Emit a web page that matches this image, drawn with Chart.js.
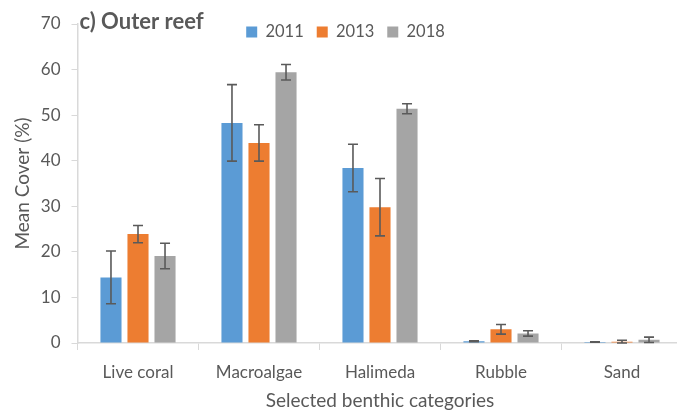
<!DOCTYPE html>
<html>
<head>
<meta charset="utf-8">
<script src="https://cdn.jsdelivr.net/npm/chart.js@4"></script>
<style>
  html, body { margin: 0; padding: 0; background: #fff; overflow: hidden; }
  #wrap { width: 685px; height: 412px; position: relative; }
</style>
</head>
<body>
<div id="wrap"><canvas id="chart"></canvas></div>
<script>
const categories = ["Live coral", "Macroalgae", "Halimeda", "Rubble", "Sand"];
const years = ["2011", "2013", "2018"];
const cover2011 = [14.4, 48.3, 38.4, 0.4, 0.2];
const cover2013 = [23.9, 43.9, 29.8, 3.0, 0.3];
const cover2018 = [19.1, 59.4, 51.4, 2.1, 0.7];
const err2011 = [5.8, 8.4, 5.2, 0.1, 0.05];
const err2013 = [1.9, 4.0, 6.3, 1.05, 0.3];
const err2018 = [2.8, 1.7, 1.1, 0.6, 0.6];
const yTicks = [0, 10, 20, 30, 40, 50, 60, 70];

const textColor = "#595959";
const axisColor = "#d9d9d9";
const fontFamily = "Lato, 'Open Sans', sans-serif";
const legendPad = 13;
const legendFont = 16.5;

// error bars drawn from each bar's own position and the y scale
const errorBars = {
  id: "errorBars",
  afterDatasetsDraw(chart) {
    const ctx = chart.ctx;
    const yScale = chart.scales.y;
    ctx.save();
    ctx.strokeStyle = "#5a5a5a";
    ctx.lineWidth = 1.6;
    chart.data.datasets.forEach((ds, i) => {
      const meta = chart.getDatasetMeta(i);
      meta.data.forEach((bar, j) => {
        const v = ds.data[j], e = ds.errors[j];
        const yTop = yScale.getPixelForValue(v + e);
        const yBot = yScale.getPixelForValue(v - e);
        ctx.beginPath();
        ctx.moveTo(bar.x, yTop); ctx.lineTo(bar.x, yBot);
        ctx.moveTo(bar.x - 5, yTop); ctx.lineTo(bar.x + 5, yTop);
        ctx.moveTo(bar.x - 5, yBot); ctx.lineTo(bar.x + 5, yBot);
        ctx.stroke();
      });
    });
    ctx.restore();
  }
};

// panel title and legend placement (legend sits over the plot like in Excel)
const panelTitle = {
  id: "panelTitle",
  afterLayout(chart) {
    const lg = chart.legend;
    lg.left = 6;
    lg.right = chart.width;
    lg.top = 32 - legendPad - legendFont / 2;
    lg.bottom = lg.top + lg.height;
  },
  afterDraw(chart) {
    const ctx = chart.ctx;
    ctx.save();
    ctx.font = "bold 22px " + fontFamily;
    ctx.fillStyle = textColor;
    ctx.textBaseline = "middle";
    ctx.fillText("c) Outer reef", chart.chartArea.left + 2, 22);
    ctx.restore();
  }
};

new Chart(document.getElementById("chart"), {
  type: "bar",
  data: {
    labels: categories,
    datasets: [
      { label: years[0], data: cover2011, errors: err2011, backgroundColor: "#5b9bd5" },
      { label: years[1], data: cover2013, errors: err2013, backgroundColor: "#ed7d31" },
      { label: years[2], data: cover2018, errors: err2018, backgroundColor: "#a5a5a5" }
    ]
  },
  options: {
    responsive: true,
    maintainAspectRatio: false,
    animation: false,
    devicePixelRatio: 1,
    categoryPercentage: 0.67,
    barPercentage: 0.78,
    layout: { padding: { top: 24 - (legendFont + legendPad + 10), right: 2.5, left: 0, bottom: 0 } },
    plugins: {
      tooltip: { enabled: false },
      legend: {
        position: "top",
        labels: {
          boxWidth: 11,
          boxHeight: 11,
          padding: legendPad,
          color: textColor,
          font: { family: fontFamily, size: legendFont }
        }
      }
    },
    scales: {
      x: {
        grid: { display: true, drawOnChartArea: false, color: axisColor, tickLength: 7, offset: true },
        border: { color: axisColor, width: 1.5 },
        ticks: { color: textColor, padding: 12, font: { family: fontFamily, size: 17 } },
        title: {
          display: true, text: "Selected benthic categories", color: textColor,
          font: { family: fontFamily, size: 19 }, padding: { top: 0, bottom: 0 }
        },
        afterFit(scale) { scale.height = 69; }
      },
      y: {
        min: 0,
        max: 70,
        afterBuildTicks(scale) { scale.ticks = yTicks.map(v => ({ value: v })); },
        grid: { display: true, drawOnChartArea: false, color: axisColor, tickLength: 6 },
        border: { color: axisColor, width: 1.5 },
        ticks: { color: textColor, padding: 11, font: { family: fontFamily, size: 17 } },
        title: {
          display: true, text: "Mean Cover (%)", color: textColor,
          font: { family: fontFamily, size: 19 }, padding: { top: 11, bottom: 0 }
        },
        afterFit(scale) { scale.width = 77.5; }
      }
    }
  },
  plugins: [errorBars, panelTitle]
});
</script>
</body>
</html>
